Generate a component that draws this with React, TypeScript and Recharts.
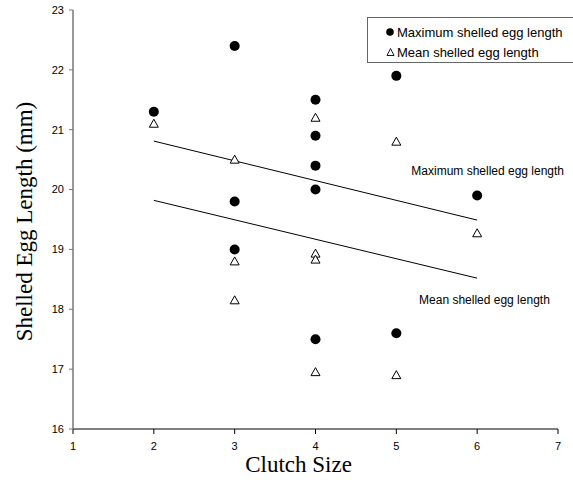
import { ScatterChart, Scatter, XAxis, YAxis, ReferenceDot } from 'recharts';

// clutch size vs shelled egg length
const maxClutch = [2, 3, 3, 3, 4, 4, 4, 4, 4, 5, 5, 6];
const maxLength = [21.3, 22.4, 19.8, 19.0, 21.5, 20.9, 20.4, 20.0, 17.5, 21.9, 17.6, 19.9];
const meanClutch = [2, 3, 3, 3, 4, 4, 4, 4, 5, 5, 6];
const meanLength = [21.1, 20.5, 18.8, 18.15, 21.2, 18.93, 18.83, 16.95, 20.8, 16.9, 19.27];

// fitted lines (endpoints)
const trendX = [2, 6];
const maxTrend = [20.81, 19.49];
const meanTrend = [19.82, 18.52];

const xTicks = [1, 2, 3, 4, 5, 6, 7];
const yTicks = [16, 17, 18, 19, 20, 21, 22, 23];

const maxData = maxClutch.map((x, i) => ({ x, y: maxLength[i] }));
const meanData = meanClutch.map((x, i) => ({ x, y: meanLength[i] }));
const maxLine = trendX.map((x, i) => ({ x, y: maxTrend[i] }));
const meanLine = trendX.map((x, i) => ({ x, y: meanTrend[i] }));

const Dot = (p: any) => <circle cx={p.cx} cy={p.cy} r={5} fill="#000" />;
const Tri = (p: any) => (
  <path d={`M${p.cx},${p.cy - 4.5}L${p.cx + 4.5},${p.cy + 3.5}L${p.cx - 4.5},${p.cy + 3.5}Z`} fill="#fff" stroke="#000" strokeWidth={1} />
);
const Nothing = () => null;

const sans = 'Liberation Sans, Arial, sans-serif';
const serif = 'Liberation Serif, Times New Roman, serif';
const tickStyle = { fontFamily: sans, fontSize: 11, fill: '#000' };

function LegendBox() {
  return (
    <div style={{ position: 'absolute', left: 367, top: 17, width: 210, height: 46, border: '1.5px solid #666', borderRight: 'none', fontFamily: sans, fontSize: 13, background: '#fff', boxSizing: 'border-box' }}>
      <div style={{ position: 'absolute', left: 18, top: 6, display: 'flex', alignItems: 'center', height: 16 }}>
        <svg width={9} height={10}><circle cx={4} cy={5} r={3.8} fill="#000" /></svg>
        <span style={{ marginLeft: 2 }}>Maximum shelled egg length</span>
      </div>
      <div style={{ position: 'absolute', left: 18, top: 26, display: 'flex', alignItems: 'center', height: 16 }}>
        <svg width={9} height={10}><path d="M4.5,1.5L8,8.5L1,8.5Z" fill="#fff" stroke="#000" strokeWidth={0.9} /></svg>
        <span style={{ marginLeft: 2 }}>Mean shelled egg length</span>
      </div>
    </div>
  );
}

export default function App() {
  return (
    <div style={{ position: 'absolute', left: 0, top: 0, width: 573, height: 480, background: '#fff', overflow: 'hidden' }}>
      <ScatterChart width={573} height={480} margin={{ top: 10, right: 15, bottom: 11, left: 0 }}>
        <XAxis
          type="number"
          dataKey="x"
          domain={[1, 7]}
          ticks={xTicks}
          height={40}
          tick={tickStyle}
          tickSize={5}
          tickMargin={8}
          axisLine={{ stroke: '#000' }}
          tickLine={{ stroke: '#000' }}
          label={{ value: 'Clutch Size', position: 'bottom', offset: -13, dx: -17, style: { fontFamily: serif, fontSize: 23, fill: '#000' } }}
        />
        <YAxis
          type="number"
          dataKey="y"
          domain={[16, 23]}
          ticks={yTicks}
          width={73}
          tick={tickStyle}
          tickSize={4}
          tickMargin={5}
          axisLine={{ stroke: '#777', strokeWidth: 1.5 }}
          tickLine={{ stroke: '#777' }}
          label={{ value: 'Shelled Egg Length (mm)', angle: -90, position: 'insideLeft', offset: 24, dy: 2, style: { textAnchor: 'middle', fontFamily: serif, fontSize: 23, fill: '#000' } }}
        />
        <Scatter data={maxLine} line={{ stroke: '#000', strokeWidth: 1 }} shape={Nothing} isAnimationActive={false} legendType="none" />
        <Scatter data={meanLine} line={{ stroke: '#000', strokeWidth: 1 }} shape={Nothing} isAnimationActive={false} legendType="none" />
        <Scatter name="Maximum shelled egg length" data={maxData} shape={Dot} isAnimationActive={false} />
        <Scatter name="Mean shelled egg length" data={meanData} shape={Tri} isAnimationActive={false} />
        <ReferenceDot x={6.13} y={20.31} r={0} stroke="none" fill="none" label={{ value: 'Maximum shelled egg length', position: 'center', style: { ...tickStyle, fontSize: 12 } }} />
        <ReferenceDot x={6.09} y={18.16} r={0} stroke="none" fill="none" label={{ value: 'Mean shelled egg length', position: 'center', style: { ...tickStyle, fontSize: 12 } }} />
      </ScatterChart>
      <LegendBox />
    </div>
  );
}
